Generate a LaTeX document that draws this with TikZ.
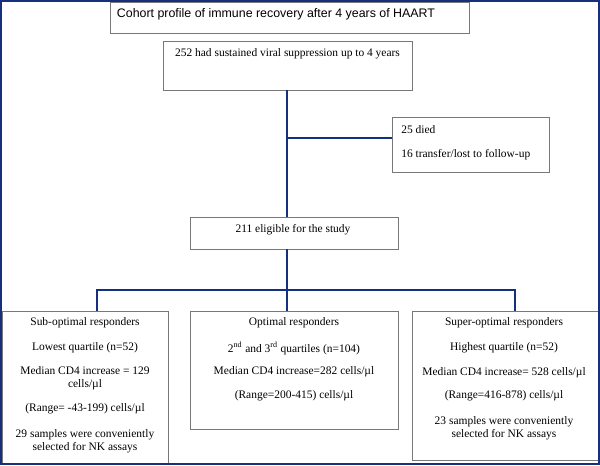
\documentclass[tikz,border=0pt]{standalone}
\usepackage{fontspec}
\setmainfont{Liberation Serif}
\newfontfamily\arialfont{Liberation Sans}
\definecolor{navy}{RGB}{22,48,128}
\definecolor{boxgray}{RGB}{120,120,120}
\begin{document}
\begin{tikzpicture}[x=0.75pt,y=-0.75pt,
  box/.style={draw=boxgray,line width=0.6pt,fill=white,inner sep=0pt},
  conn/.style={draw=navy,line width=1.4pt},
  txt/.style={inner sep=0pt,font=\fontsize{8.6}{9.75}\selectfont,align=center},
  txtl/.style={inner sep=0pt,font=\fontsize{8.6}{9.75}\selectfont,anchor=west}]
\useasboundingbox (0,0) rectangle (600,465);
\fill[white] (0,0) rectangle (600,465);
% boxes
\node[box,minimum width=359*0.75pt,minimum height=31*0.75pt] (title) at (289.5,17.5) {};
\node[box,minimum width=249*0.75pt,minimum height=49*0.75pt] (b252) at (287.5,65.5) {};
\node[box,minimum width=157*0.75pt,minimum height=55*0.75pt] (died) at (470.5,144.5) {};
\node[box,minimum width=208*0.75pt,minimum height=32*0.75pt] (b211) at (294,233) {};
\node[box,minimum width=166*0.75pt,minimum height=152*0.75pt] (sub) at (85,387) {};
\node[box,minimum width=208*0.75pt,minimum height=118*0.75pt] (opt) at (294,370) {};
\node[box,minimum width=186*0.75pt,minimum height=149*0.75pt] (sup) at (505,385.5) {};
% texts
\node[inner sep=0pt,font=\arialfont\fontsize{9.3}{11}\selectfont] (ttitle) at (276,14) {Cohort profile of immune recovery after 4 years of HAART};
\node[txt] (t252) at (287.5,54) {252 had sustained viral suppression up to 4 years};
\node[txtl] (tdied1) at (401,130) {25 died};
\node[txtl] (tdied2) at (401,155) {16 transfer/lost to follow-up};
\node[txt] (t211) at (293,230) {211 eligible for the study};
\node[txt] (s1) at (85,323) {Sub-optimal responders};
\node[txt] (s2) at (85,348) {Lowest quartile (n=52)};
\node[txt,anchor=north] (s3) at (85,366) {Median CD4 increase = 129\\cells/µl};
\node[txt] (s4) at (85,409) {(Range= -43-199) cells/µl};
\node[txt,anchor=north] (s5) at (85,429) {29 samples were conveniently\\selected for NK assays};
\node[txt] (o1) at (294,323) {Optimal responders};
\node[txt] (o2) at (294,348) {2\textsuperscript{nd} and 3\textsuperscript{rd} quartiles (n=104)};
\node[txt] (o3) at (294,372) {Median CD4 increase=282 cells/µl};
\node[txt] (o4) at (294,396) {(Range=200-415) cells/µl};
\node[txt] (p1) at (504,323) {Super-optimal responders};
\node[txt] (p2) at (504,348) {Highest quartile (n=52)};
\node[txt] (p3) at (504,373) {Median CD4 increase= 528 cells/µl};
\node[txt] (p4) at (504,396) {(Range=416-878) cells/µl};
\node[txt,anchor=north] (p5) at (504,416) {23 samples were conveniently\\selected for NK assays};
% connectors
\coordinate (j1) at (287,138);
\coordinate (j2) at (287,290);
\coordinate (dl) at (97,290);
\coordinate (dr) at (515,290);
\draw[conn] (b252.south -| j1) -- (b211.north -| j1);
\draw[conn] (j1) -- (j1 -| died.west);
\draw[conn] (b211.south -| j2) -- (j2);
\draw[conn] (dl |- sub.north) -- (dl) -- (dr) -- (dr |- sup.north);
\draw[conn] (j2) -- (j2 |- opt.north);
% outer frame
\draw[navy,line width=1.2pt] (0.8,0.8) rectangle (599.2,464.2);
\end{tikzpicture}
\end{document}
